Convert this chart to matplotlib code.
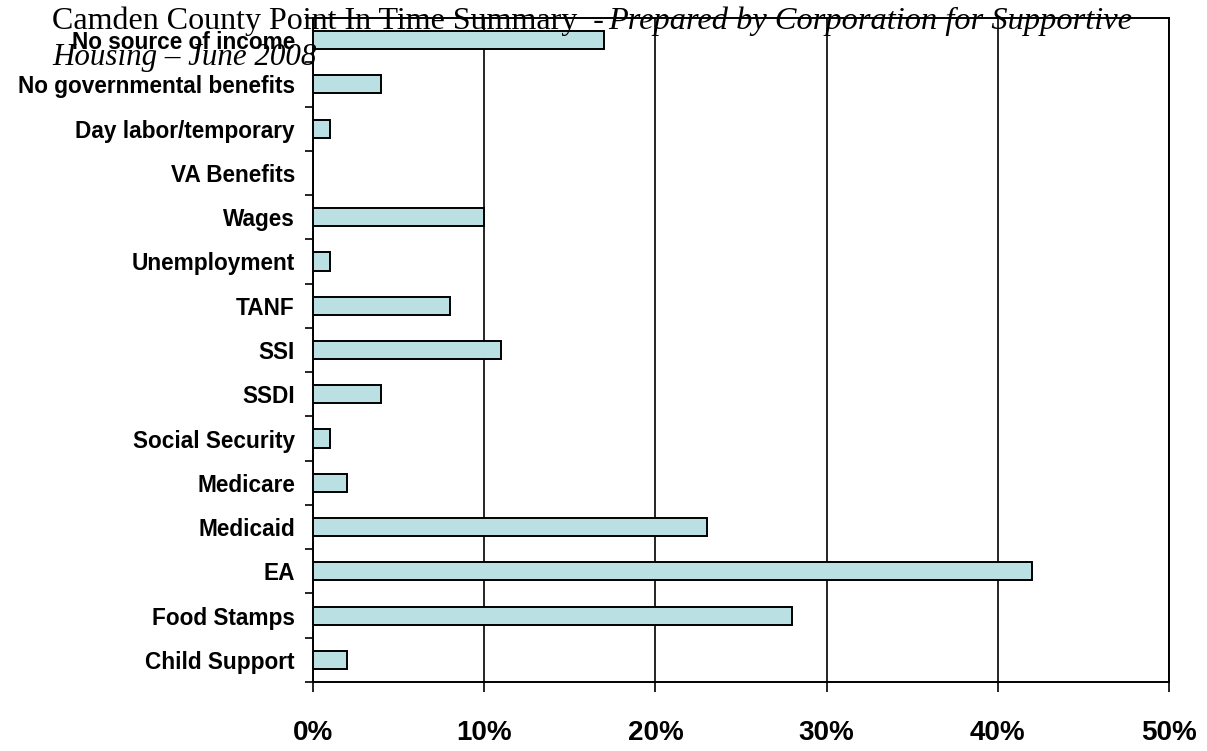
import numpy as np
import matplotlib
matplotlib.use("Agg")
import matplotlib.pyplot as plt
from matplotlib.ticker import FixedLocator, FuncFormatter

# Income sources (top to bottom as shown) and share of respondents (%)
sources = [
    "No source of income", "No governmental benefits", "Day labor/temporary",
    "VA Benefits", "Wages", "Unemployment", "TANF", "SSI", "SSDI",
    "Social Security", "Medicare", "Medicaid", "EA", "Food Stamps",
    "Child Support",
]
percent = [17, 4, 1, 0, 10, 1, 8, 11, 4, 1, 2, 23, 42, 28, 2]
x_ticks = [0, 10, 20, 30, 40, 50]

title_plain = "Camden County Point In Time Summary  -"
title_italic_1 = "Prepared by Corporation for Supportive"
title_italic_2 = "Housing \u2013 June 2008"

W, H = 1207, 751
fig = plt.figure(figsize=(W / 100, H / 100), dpi=100)
ax = fig.add_axes([313 / W, (H - 682) / H, (1169 - 313) / W, (682 - 18) / H])

n = len(sources)
ypos = np.arange(n)[::-1]  # first category at top
ax.barh(ypos, percent, height=0.41, color="#BBE0E3", edgecolor="black",
        linewidth=1.4, zorder=3)

ax.set_xlim(0, 50)
ax.set_ylim(-0.5, n - 0.5)

# vertical gridlines
ax.xaxis.set_major_locator(FixedLocator(x_ticks))
ax.xaxis.set_major_formatter(FuncFormatter(lambda v, p: f"{v:.0f}%"))
ax.grid(axis="x", color="black", linewidth=1.2, zorder=1)

# category labels at centres, tick marks at boundaries
ax.set_yticks(ypos)
ax.set_yticklabels(sources, fontfamily="Liberation Sans", fontweight="bold",
                   fontsize=16.3)
ax.yaxis.set_minor_locator(FixedLocator(np.arange(-0.5, n, 1.0)))
ax.tick_params(axis="y", which="major", length=0, pad=13)
ax.tick_params(axis="y", which="minor", length=5.5, width=1.2, color="black")
ax.tick_params(axis="x", which="major", length=7.5, width=1.2, pad=20,
               labelsize=20)
for lab in ax.get_xticklabels():
    lab.set_fontfamily("Liberation Sans")
    lab.set_fontweight("bold")

for side in ["left", "bottom", "top", "right"]:
    ax.spines[side].set_linewidth(1.4)
    ax.spines[side].set_color("black")

# title, partly italic, overlapping the plot area
fig.text(52 / W, 1 - 29 / H, title_plain, fontfamily="Liberation Serif",
         fontsize=23, ha="left", va="baseline")
fig.text(608 / W, 1 - 29 / H, title_italic_1, fontfamily="Liberation Serif",
         fontstyle="italic", fontsize=23.3, ha="left", va="baseline")
fig.text(52 / W, 1 - 65 / H, title_italic_2, fontfamily="Liberation Serif",
         fontstyle="italic", fontsize=22.3, ha="left", va="baseline")

fig.savefig("out.png", dpi=100)
